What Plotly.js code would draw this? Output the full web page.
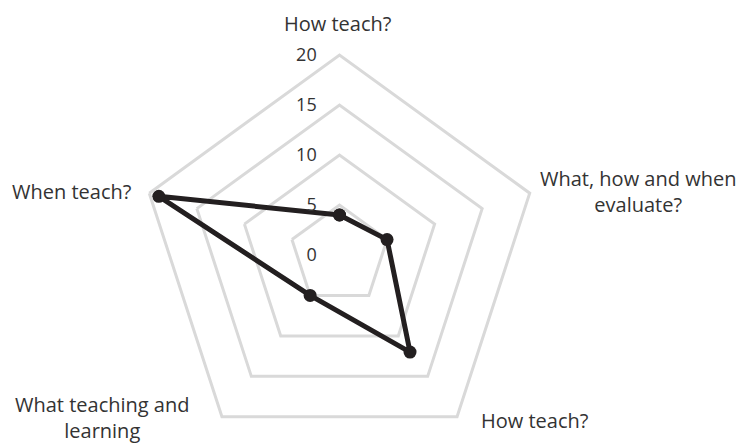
<!DOCTYPE html>
<html>
<head>
<meta charset="utf-8">
<script src="https://cdn.plot.ly/plotly-3.0.1.min.js"></script>
<style>
html,body{margin:0;padding:0;overflow:hidden;background:#fff;width:741px;height:443px;}
#chart{width:741px;height:520px;}
</style>
</head>
<body>
<div id="chart"></div>
<script>
var categoryIds = ["c1", "c2", "c3", "c4", "c5"];
var categoryLabels = ["How teach?", "What, how and when<br>evaluate?", "How teach?", "What teaching and<br>learning", "When teach?"];
var values = [4, 5, 12, 5, 19];
var radialTicks = [0, 5, 10, 15, 20];

var W = 741, H = 520;
var cx = 339.5, cy = 255, R = 200;
// label centres (px, from top-left), layout only
var labelPos = [[338, 24], [638, 191], [535, 420], [102, 417], [72, 191]];

var trace = {
  type: 'scatterpolar',
  r: values.concat([values[0]]),
  theta: categoryIds.concat([categoryIds[0]]),
  mode: 'lines+markers',
  line: {color: '#231f20', width: 5},
  marker: {color: '#231f20', size: 13},
  hoverinfo: 'skip',
  showlegend: false
};

var annotations = categoryLabels.map(function (t, i) {
  return {
    text: t, xref: 'paper', yref: 'paper',
    x: labelPos[i][0] / W, y: (H - labelPos[i][1]) / H,
    xanchor: 'center', yanchor: 'middle', align: 'center',
    showarrow: false,
    font: {family: 'Open Sans, Noto Sans, sans-serif', size: 20, color: '#333333'}
  };
});

var layout = {
  width: W, height: H,
  margin: {l: 0, r: 0, t: 0, b: 0},
  paper_bgcolor: '#fff',
  font: {family: 'Open Sans, Noto Sans, sans-serif', size: 18, color: '#333333'},
  annotations: annotations,
  polar: {
    domain: {x: [(cx - R) / W, (cx + R) / W], y: [(H - cy - R) / H, (H - cy + R) / H]},
    bgcolor: 'rgba(0,0,0,0)',
    gridshape: 'linear',
    radialaxis: {
      range: [0, 20],
      tickmode: 'array',
      tickvals: radialTicks,
      ticktext: radialTicks.map(String),
      angle: 90,
      tickangle: 90,
      side: 'counterclockwise',
      showline: false,
      ticks: 'outside',
      ticklen: 16,
      tickcolor: 'rgba(0,0,0,0)',
      showgrid: true,
      gridcolor: '#d9d9d9',
      gridwidth: 3,
      tickfont: {size: 18, color: '#333333'}
    },
    angularaxis: {
      type: 'category',
      categoryarray: categoryIds,
      categoryorder: 'array',
      rotation: 90,
      direction: 'clockwise',
      showgrid: false,
      showticklabels: false,
      showline: true,
      linecolor: '#d9d9d9',
      linewidth: 3,
      ticks: ''
    }
  }
};

Plotly.newPlot('chart', [trace], layout, {staticPlot: true, displayModeBar: false});
</script>
</body>
</html>
